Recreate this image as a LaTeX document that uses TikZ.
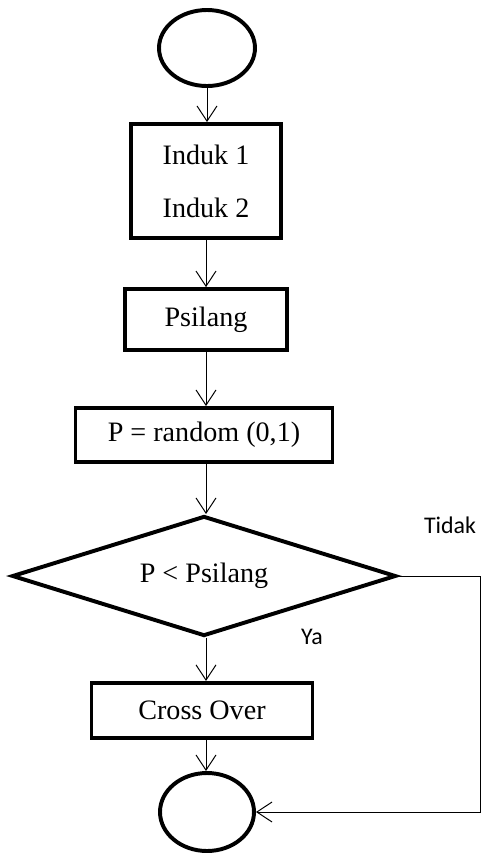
\documentclass[tikz,border=0pt]{standalone}
\usepackage{fontspec}
\setmainfont{Liberation Serif}
\newfontfamily\labelfont{Carlito}
\usetikzlibrary{shapes.geometric,arrows.meta}

\begin{document}
\begin{tikzpicture}[
    box/.style={draw, line width=2.8pt, inner sep=0pt, font=\fontsize{20}{37.6}\selectfont},
    ovalbox/.style={draw, ellipse, line width=2.8pt, inner sep=0pt},
    decide/.style={draw, diamond, aspect=3.2, line width=2.8pt, inner sep=0pt, font=\fontsize{20}{24}\selectfont},
    flow/.style={line width=0.7pt, -{Straight Barb[length=3.8mm, width=5mm]}},
    branch/.style={font=\labelfont\fontsize{17}{20}\selectfont}
  ]
            \useasboundingbox (0,0) rectangle (12.05,-21.375);

            \node[ovalbox, minimum width=2.4cm, minimum height=1.9cm] (start) at (5.175,-1.2) {};
            \node[box, align=center, minimum width=3.75cm, minimum height=2.85cm] (induk) at (5.15,-4.525) {Induk 1\\Induk 2};
            \node[box, minimum width=4.05cm, minimum height=1.525cm] (psilang) at (5.15,-7.99) {Psilang};
            \node[box, minimum width=6.425cm, minimum height=1.35cm] (rand) at (5.1,-10.875) {P = random (0,1)};
            \node[decide, minimum width=9.6cm, minimum height=3.0cm] (cek) at (5.1,-14.4) {P < Psilang};
            \node[box, minimum width=5.525cm, minimum height=1.375cm] (cross) at (5.05,-17.76) {Cross Over};
            \node[ovalbox, minimum width=2.35cm, minimum height=1.95cm] (stop) at (5.175,-20.3) {};

            \node[branch] (ya) at (7.8,-15.92) {Ya};
            \node[branch] (tidak) at (11.25,-13.12) {Tidak};
            \coordinate (kanan) at (12.0,-14.45);

            \draw[flow] (start) -- (start |- induk.north); \draw[flow] (induk) -- (induk |- psilang.north);
            \draw[flow] (psilang) -- (psilang |- rand.north); \draw[flow] (rand.south -| psilang) -- (psilang |- cek.north);
            \draw[flow] (cek.south -| psilang) -- (psilang |- cross.north); \draw[flow] (cross.south -| psilang) -- (psilang |- stop.north);
            \draw[flow] (cek.east) -- (cek.east -| kanan) -- (kanan |- stop.east) -- (stop.east);
        \end{tikzpicture}
\end{document}
